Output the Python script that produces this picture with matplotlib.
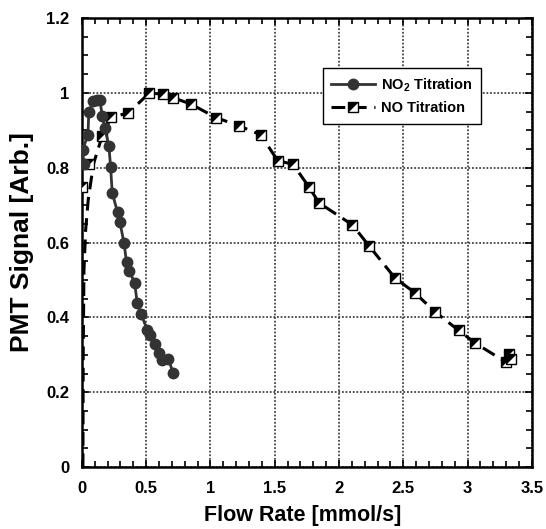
import numpy as np
import matplotlib.pyplot as plt
from matplotlib.lines import Line2D
from matplotlib.legend_handler import HandlerTuple

plt.rcParams['font.family'] = ['Liberation Sans', 'DejaVu Sans']
plt.rcParams['font.weight'] = 'bold'
plt.rcParams['mathtext.fontset'] = 'custom'
plt.rcParams['mathtext.rm'] = 'Liberation Sans:bold'
plt.rcParams['mathtext.bf'] = 'Liberation Sans:bold'
plt.rcParams['mathtext.default'] = 'bf'

# NO2 titration
no2_x = [0.016, 0.005, 0.047, 0.054, 0.088, 0.114, 0.14, 0.158, 0.179, 0.21,
         0.223, 0.236, 0.277, 0.295, 0.327, 0.347, 0.368, 0.41, 0.43, 0.459,
         0.508, 0.529, 0.568, 0.599, 0.627, 0.671, 0.71]
no2_y = [0.809, 0.847, 0.888, 0.95, 0.977, 0.981, 0.981, 0.939, 0.905, 0.858,
         0.803, 0.733, 0.681, 0.655, 0.6, 0.548, 0.524, 0.493, 0.439, 0.41,
         0.367, 0.354, 0.33, 0.305, 0.285, 0.29, 0.252]

# NO titration markers
no_x = [0.0, 0.054, 0.158, 0.226, 0.36, 0.523, 0.632, 0.71, 0.848, 1.042,
        1.221, 1.392, 1.522, 1.643, 1.765, 1.845, 2.105, 2.234, 2.434, 2.589,
        2.75, 2.932, 3.061, 3.297, 3.323, 3.341]
no_y = [0.748, 0.809, 0.885, 0.935, 0.946, 0.999, 0.997, 0.987, 0.97, 0.934,
        0.912, 0.888, 0.819, 0.809, 0.749, 0.706, 0.647, 0.591, 0.506, 0.466,
        0.414, 0.365, 0.331, 0.281, 0.303, 0.29]

# dashed NO curve at low flow
no_curve_x = [0.008, 0.01, 0.016, 0.029, 0.049, 0.09, 0.158]
no_curve_y = [0.0, 0.30, 0.526, 0.633, 0.714, 0.81, 0.885]

line_x = no_curve_x + no_x[3:]
line_y = no_curve_y + no_y[3:]

fig = plt.figure(figsize=(5.46, 5.29), dpi=100)
ax = fig.add_axes([0.150, 0.117, 0.824, 0.849])

dash = (0, (4.5, 2.5))
ax.plot(line_x, line_y, color='black', lw=2.2, ls=dash, zorder=3)
ax.plot(no_x, no_y, ls='none', marker='s', ms=7.5, mfc='white', mec='black', mew=1.0, zorder=4)
tri = [(-1, -1), (-1, 1), (1, 1), (-1, -1)]
ax.plot(no_x, no_y, ls='none', marker=tri, ms=7.5, mfc='black', mec='black', mew=0, zorder=5)

ax.plot(no2_x, no2_y, color='#333333', lw=2, marker='o', ms=7.5, mfc='#333333', mec='#333333', zorder=6)

ax.set_xlim(0, 3.5)
ax.set_ylim(0, 1.2)
ax.set_xticks(np.arange(0, 3.51, 0.5))
ax.set_xticklabels(['0', '0.5', '1', '1.5', '2', '2.5', '3', '3.5'])
ax.set_yticks(np.arange(0, 1.21, 0.2))
ax.set_yticklabels(['0', '0.2', '0.4', '0.6', '0.8', '1', '1.2'])
ax.set_xticks(np.arange(0, 3.51, 0.1), minor=True)
ax.set_yticks(np.arange(0, 1.21, 0.05), minor=True)
ax.tick_params(which='both', direction='in', top=True, right=True, width=1.2)
ax.tick_params(which='major', length=5, labelsize=12)
ax.tick_params(which='minor', length=4)
ax.tick_params(axis='y', pad=9)
ax.tick_params(axis='x', pad=10)
ax.grid(True, which='major', color='#444444', ls=(0, (1, 1)), lw=1.3)
for sp in ax.spines.values():
    sp.set_linewidth(1.8)

ax.set_xlabel('Flow Rate [mmol/s]', fontsize=15.5, fontweight='bold')
ax.set_ylabel('PMT Signal [Arb.]', fontsize=19, fontweight='bold')
ax.xaxis.set_label_coords(0.49, -0.085)
ax.yaxis.set_label_coords(-0.133, 0.5)
ax.yaxis.label.set_va('center')

h_no2 = Line2D([], [], color='#333333', lw=2, marker='o', ms=7.5, mfc='#333333', mec='#333333')
h_no_l = Line2D([], [], color='black', lw=2.2, ls=dash, marker='s', ms=7.5,
                mfc='white', mec='black', mew=1.0)
h_no_t = Line2D([], [], ls='none', marker=tri, ms=7.5, mfc='black', mew=0)
leg = ax.legend([h_no2, (h_no_l, h_no_t)], ['NO$_2$ Titration', 'NO Titration'],
                handler_map={tuple: HandlerTuple(ndivide=1)},
                loc='upper left', bbox_to_anchor=(0.535, 0.889), borderaxespad=0,
                fancybox=False, edgecolor='black', framealpha=1, fontsize=10.5,
                handlelength=3, borderpad=0.6, labelspacing=0.5, handletextpad=0.4)
leg.get_frame().set_linewidth(1.0)

fig.savefig('out.png', dpi=100)
